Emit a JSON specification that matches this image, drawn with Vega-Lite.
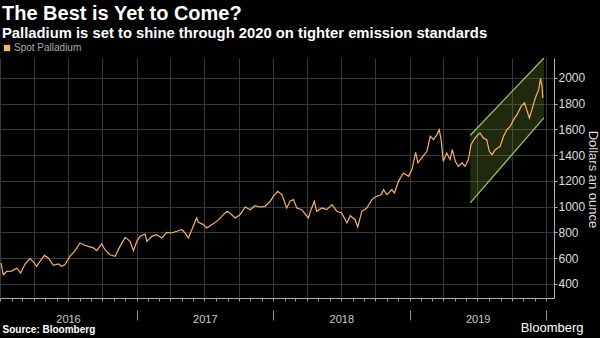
{
  "$schema": "https://vega.github.io/schema/vega-lite/v6.json",
  "width": 554,
  "height": 240,
  "autosize": {"type": "none"},
  "padding": {"left": 0, "top": 58, "right": 46, "bottom": 40},
  "background": "#000000",
  "title": {
    "text": "The Best is Yet to Come?",
    "subtitle": "Palladium is set to shine through 2020 on tighter emission standards",
    "anchor": "start",
    "frame": "group",
    "font": "Liberation Sans",
    "fontSize": 20,
    "fontWeight": "bold",
    "color": "#ffffff",
    "subtitleFont": "Liberation Sans",
    "subtitleFontSize": 14.8,
    "subtitleFontWeight": "bold",
    "subtitleColor": "#ffffff",
    "subtitlePadding": 2,
    "offset": 2,
    "dx": 2
  },
  "datasets": {
    "price": [
      {"date": "2016-01-04", "price": 563}, {"date": "2016-01-07", "price": 511}, {"date": "2016-01-10", "price": 472},
      {"date": "2016-01-19", "price": 498}, {"date": "2016-02-01", "price": 500}, {"date": "2016-02-15", "price": 524},
      {"date": "2016-02-25", "price": 485}, {"date": "2016-03-08", "price": 555}, {"date": "2016-03-21", "price": 597},
      {"date": "2016-03-30", "price": 571}, {"date": "2016-04-08", "price": 537}, {"date": "2016-04-17", "price": 575},
      {"date": "2016-04-29", "price": 622}, {"date": "2016-05-09", "price": 602}, {"date": "2016-05-23", "price": 545},
      {"date": "2016-06-05", "price": 555}, {"date": "2016-06-14", "price": 537}, {"date": "2016-06-23", "price": 550},
      {"date": "2016-07-06", "price": 615}, {"date": "2016-07-20", "price": 659}, {"date": "2016-08-02", "price": 718},
      {"date": "2016-08-11", "price": 705}, {"date": "2016-08-24", "price": 692}, {"date": "2016-09-07", "price": 680},
      {"date": "2016-09-16", "price": 659}, {"date": "2016-09-29", "price": 712}, {"date": "2016-10-08", "price": 666},
      {"date": "2016-10-21", "price": 627}, {"date": "2016-11-04", "price": 615}, {"date": "2016-11-17", "price": 692},
      {"date": "2016-12-01", "price": 762}, {"date": "2016-12-14", "price": 731}, {"date": "2016-12-23", "price": 659},
      {"date": "2017-01-01", "price": 731}, {"date": "2017-01-10", "price": 770}, {"date": "2017-01-23", "price": 788},
      {"date": "2017-01-28", "price": 731}, {"date": "2017-02-10", "price": 770}, {"date": "2017-02-23", "price": 783},
      {"date": "2017-03-09", "price": 757}, {"date": "2017-03-22", "price": 801}, {"date": "2017-04-04", "price": 796},
      {"date": "2017-04-18", "price": 809}, {"date": "2017-05-01", "price": 822}, {"date": "2017-05-10", "price": 796},
      {"date": "2017-05-19", "price": 757}, {"date": "2017-05-30", "price": 835}, {"date": "2017-06-10", "price": 913},
      {"date": "2017-06-15", "price": 878}, {"date": "2017-06-28", "price": 861}, {"date": "2017-07-07", "price": 835},
      {"date": "2017-07-21", "price": 861}, {"date": "2017-08-03", "price": 886}, {"date": "2017-08-16", "price": 925},
      {"date": "2017-08-30", "price": 964}, {"date": "2017-09-07", "price": 951}, {"date": "2017-09-21", "price": 913},
      {"date": "2017-10-04", "price": 938}, {"date": "2017-10-18", "price": 998}, {"date": "2017-10-31", "price": 977},
      {"date": "2017-11-13", "price": 1008}, {"date": "2017-11-27", "price": 998}, {"date": "2017-12-10", "price": 1003},
      {"date": "2017-12-24", "price": 1042}, {"date": "2018-01-01", "price": 1080}, {"date": "2018-01-13", "price": 1119},
      {"date": "2018-01-24", "price": 1094}, {"date": "2018-02-06", "price": 990}, {"date": "2018-02-15", "price": 1042},
      {"date": "2018-02-24", "price": 1055}, {"date": "2018-03-05", "price": 990}, {"date": "2018-03-18", "price": 977},
      {"date": "2018-04-05", "price": 913}, {"date": "2018-04-12", "price": 977}, {"date": "2018-04-21", "price": 1042},
      {"date": "2018-04-27", "price": 964}, {"date": "2018-05-11", "price": 990}, {"date": "2018-05-24", "price": 977},
      {"date": "2018-06-07", "price": 1016}, {"date": "2018-06-20", "price": 964}, {"date": "2018-07-03", "price": 951},
      {"date": "2018-07-17", "price": 874}, {"date": "2018-07-26", "price": 930}, {"date": "2018-08-08", "price": 899},
      {"date": "2018-08-15", "price": 843}, {"date": "2018-08-26", "price": 964}, {"date": "2018-09-08", "price": 990},
      {"date": "2018-09-22", "price": 1055}, {"date": "2018-10-01", "price": 1076}, {"date": "2018-10-17", "price": 1094},
      {"date": "2018-10-23", "price": 1132}, {"date": "2018-11-01", "price": 1094}, {"date": "2018-11-14", "price": 1132},
      {"date": "2018-11-21", "price": 1107}, {"date": "2018-12-02", "price": 1197}, {"date": "2018-12-15", "price": 1262},
      {"date": "2018-12-29", "price": 1236}, {"date": "2019-01-07", "price": 1288}, {"date": "2019-01-17", "price": 1422},
      {"date": "2019-01-23", "price": 1340}, {"date": "2019-02-02", "price": 1379}, {"date": "2019-02-16", "price": 1430},
      {"date": "2019-02-25", "price": 1547}, {"date": "2019-03-06", "price": 1521}, {"date": "2019-03-15", "price": 1560},
      {"date": "2019-03-21", "price": 1598}, {"date": "2019-03-26", "price": 1521}, {"date": "2019-04-01", "price": 1352},
      {"date": "2019-04-10", "price": 1417}, {"date": "2019-04-19", "price": 1366}, {"date": "2019-04-25", "price": 1443},
      {"date": "2019-05-03", "price": 1352}, {"date": "2019-05-11", "price": 1313}, {"date": "2019-05-21", "price": 1340},
      {"date": "2019-05-29", "price": 1313}, {"date": "2019-06-07", "price": 1366}, {"date": "2019-06-14", "price": 1482},
      {"date": "2019-06-25", "price": 1534}, {"date": "2019-07-08", "price": 1573}, {"date": "2019-07-17", "price": 1534},
      {"date": "2019-07-26", "price": 1521}, {"date": "2019-08-02", "price": 1430}, {"date": "2019-08-09", "price": 1404},
      {"date": "2019-08-18", "price": 1443}, {"date": "2019-08-31", "price": 1469}, {"date": "2019-09-09", "price": 1547},
      {"date": "2019-09-18", "price": 1598}, {"date": "2019-09-27", "price": 1624}, {"date": "2019-10-06", "price": 1676},
      {"date": "2019-10-15", "price": 1715}, {"date": "2019-10-26", "price": 1779}, {"date": "2019-11-04", "price": 1806},
      {"date": "2019-11-10", "price": 1754}, {"date": "2019-11-17", "price": 1689}, {"date": "2019-11-24", "price": 1754},
      {"date": "2019-12-03", "price": 1845}, {"date": "2019-12-12", "price": 1909}, {"date": "2019-12-17", "price": 1995},
      {"date": "2019-12-21", "price": 1935}, {"date": "2019-12-23", "price": 1845}
    ],
    "channel": [
      {"date": "2019-06-12", "lo": 1030, "hi": 1555},
      {"date": "2019-12-26", "lo": 1690, "hi": 2155}
    ]
  },
  "layer": [
    {
      "data": {"name": "channel"},
      "mark": {"type": "area", "color": "#63812a", "opacity": 0.32, "clip": true},
      "encoding": {
        "x": {
          "field": "date", "type": "temporal",
          "scale": {"type": "utc", "domain": [{"year": 2016, "month": 1, "date": 1, "utc": true}, {"year": 2020, "month": 1, "date": 22, "utc": true}]},
          "axis": {
            "orient": "bottom", "tickCount": {"interval": "month", "step": 3},
            "grid": true, "gridColor": "#3a3a3a", "ticks": false, "labels": false,
            "domain": true, "domainColor": "#b0b0b0",
            "title": "Source: Bloomberg", "titleX": 2, "titleY": 26, "titleAlign": "left", "titleBaseline": "top",
            "titleFont": "Liberation Sans", "titleFontSize": 10, "titleFontWeight": "bold", "titleColor": "#ffffff"
          }
        },
        "y": {
          "field": "hi", "type": "quantitative",
          "scale": {"domain": [291, 2155], "nice": false, "zero": false},
          "axis": {
            "orient": "right", "values": [400, 600, 800, 1000, 1200, 1400, 1600, 1800, 2000], "format": "d",
            "labelOverlap": false,
            "grid": true, "gridColor": "#3a3a3a", "domain": true, "domainColor": "#b0b0b0",
            "ticks": true, "tickSize": 3, "tickColor": "#b0b0b0",
            "labelFont": "Liberation Sans", "labelFontSize": 12, "labelColor": "#dddddd", "labelPadding": 1,
            "title": "Dollars an ounce", "titleFont": "Liberation Sans", "titleFontSize": 13, "titleFontWeight": "normal",
            "titleColor": "#dddddd", "titleAngle": 90, "titleAlign": "center", "titleBaseline": "middle",
            "titleX": 38, "titleY": 121
          }
        },
        "y2": {"field": "lo"}
      }
    },
    {
      "data": {"name": "channel"},
      "mark": {"type": "line", "color": "#96c95c", "strokeWidth": 1.3, "clip": true},
      "encoding": {
        "x": {
          "field": "date", "type": "temporal",
          "scale": {"type": "utc"},
          "axis": {
            "orient": "bottom", "tickCount": {"interval": "month"},
            "grid": false, "ticks": true, "tickSize": 3, "tickColor": "#999999", "labels": false, "domain": false,
            "title": "Bloomberg", "titleX": 583, "titleY": 23, "titleAlign": "right", "titleBaseline": "top",
            "titleFont": "Liberation Sans", "titleFontSize": 13, "titleFontWeight": "normal", "titleColor": "#ffffff"
          }
        },
        "y": {
          "field": "hi", "type": "quantitative",
          "axis": {
            "orient": "right", "values": [400, 600, 800, 1000, 1200, 1400, 1600, 1800, 2000], "format": "d",
            "labelOverlap": false,
            "grid": true, "gridColor": "#3a3a3a", "domain": true, "domainColor": "#b0b0b0",
            "ticks": true, "tickSize": 3, "tickColor": "#b0b0b0",
            "labelFont": "Liberation Sans", "labelFontSize": 12, "labelColor": "#dddddd", "labelPadding": 1,
            "title": "Dollars an ounce", "titleFont": "Liberation Sans", "titleFontSize": 13, "titleFontWeight": "normal",
            "titleColor": "#dddddd", "titleAngle": 90, "titleAlign": "center", "titleBaseline": "middle",
            "titleX": 38, "titleY": 121
          }
        }
      }
    },
    {
      "data": {"name": "channel"},
      "mark": {"type": "line", "color": "#96c95c", "strokeWidth": 1.3, "clip": true},
      "encoding": {
        "x": {
          "field": "date", "type": "temporal",
          "scale": {"type": "utc"},
          "axis": {
            "orient": "bottom", "tickCount": {"interval": "year"}, "offset": 12,
            "grid": false, "domain": false, "ticks": true, "tickSize": 10,
            "tickColor": {"condition": {"test": "utcyear(datum.value) === 2016", "value": "rgba(0,0,0,0)"}, "value": "#999999"},
            "labelOffset": 68, "labelPadding": -7, "labelAlign": "center", "labelFlush": false, "labelOverlap": false,
            "labelExpr": "utcyear(datum.value) < 2020 ? datum.label : ''",
            "labelFont": "Liberation Sans", "labelFontSize": 11, "labelColor": "#cccccc", "format": "%Y", "title": null
          }
        },
        "y": {
          "field": "lo", "type": "quantitative",
          "axis": {
            "orient": "right", "values": [400, 600, 800, 1000, 1200, 1400, 1600, 1800, 2000], "format": "d",
            "labelOverlap": false,
            "grid": true, "gridColor": "#3a3a3a", "domain": true, "domainColor": "#b0b0b0",
            "ticks": true, "tickSize": 3, "tickColor": "#b0b0b0",
            "labelFont": "Liberation Sans", "labelFontSize": 12, "labelColor": "#dddddd", "labelPadding": 1,
            "title": "Dollars an ounce", "titleFont": "Liberation Sans", "titleFontSize": 13, "titleFontWeight": "normal",
            "titleColor": "#dddddd", "titleAngle": 90, "titleAlign": "center", "titleBaseline": "middle",
            "titleX": 38, "titleY": 121
          }
        }
      }
    },
    {
      "data": {"name": "price"},
      "mark": {"type": "line", "strokeWidth": 1.2},
      "encoding": {
        "x": {"field": "date", "type": "temporal", "scale": {"type": "utc"}, "axis": null},
        "y": {
          "field": "price", "type": "quantitative",
          "axis": {
            "orient": "right", "values": [400, 600, 800, 1000, 1200, 1400, 1600, 1800, 2000], "format": "d",
            "labelOverlap": false,
            "grid": true, "gridColor": "#3a3a3a", "domain": true, "domainColor": "#b0b0b0",
            "ticks": true, "tickSize": 3, "tickColor": "#b0b0b0",
            "labelFont": "Liberation Sans", "labelFontSize": 12, "labelColor": "#dddddd", "labelPadding": 1,
            "title": "Dollars an ounce", "titleFont": "Liberation Sans", "titleFontSize": 13, "titleFontWeight": "normal",
            "titleColor": "#dddddd", "titleAngle": 90, "titleAlign": "center", "titleBaseline": "middle",
            "titleX": 38, "titleY": 121
          }
        },
        "color": {
          "datum": "Spot Palladium", "type": "nominal",
          "scale": {"range": ["#f6b36b"]},
          "legend": {
            "orient": "none", "legendX": 2, "legendY": -15, "title": null,
            "symbolType": "square", "symbolSize": 40, "symbolFillColor": "#f6b36b", "symbolStrokeWidth": 0,
            "labelFont": "Liberation Sans", "labelFontSize": 10, "labelColor": "#aaaaaa", "labelOffset": 2
          }
        }
      }
    }
  ],
  "resolve": {"axis": {"x": "independent"}},
  "config": {"view": {"stroke": null}}
}
